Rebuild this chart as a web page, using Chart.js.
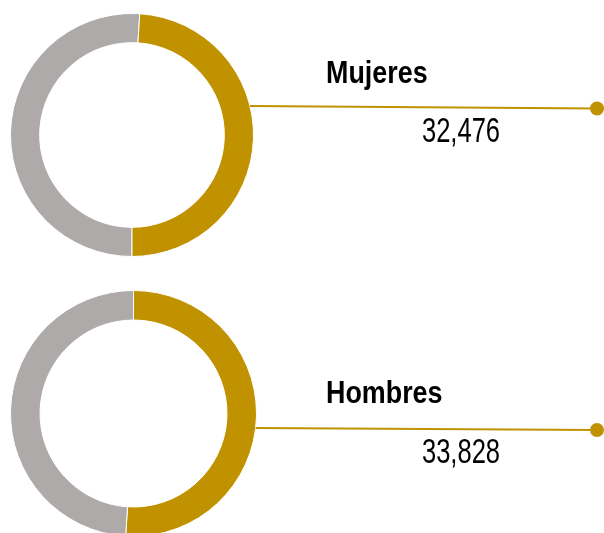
<!DOCTYPE html>
<html>
<head>
<meta charset="utf-8">
<script src="https://cdn.jsdelivr.net/npm/chart.js@4/dist/chart.umd.min.js"></script>
<style>
  html, body { margin: 0; padding: 0; background: #fff; overflow: hidden; }
  #wrap { position: relative; width: 604px; height: 533px; overflow: hidden; }
  canvas { position: absolute; left: 0; }
  .lbl { position: absolute; font-family: 'Liberation Sans', Arial, sans-serif; color: #000; line-height: 1; white-space: nowrap; }
  .name { font-weight: bold; font-size: 32px; transform: scaleX(0.84); transform-origin: 0 0; }
  .num { font-size: 35px; width: 200px; text-align: center; transform: scaleX(0.73); transform-origin: 50% 0; }
</style>
</head>
<body>
<div id="wrap">
  <canvas id="c0" width="604" height="270" style="top:0px"></canvas>
  <canvas id="c1" width="604" height="280" style="top:270px"></canvas>
  <div class="lbl name" id="n0" style="left:326px; top:56px"></div>
  <div class="lbl num" id="v0" style="left:361px; top:112px"></div>
  <div class="lbl name" id="n1" style="left:326px; top:376px"></div>
  <div class="lbl num" id="v1" style="left:361px; top:433px"></div>
</div>
<script>
// data
const categories = ['Mujeres', 'Hombres'];
const values = [32476, 33828];

const gold = '#C09200';
const gray = '#AEAAA9';

// leader line from the ring to the dot on the right
const leaderLine = {
  id: 'leaderLine',
  afterDraw(chart, args, opts) {
    const arc = chart.getDatasetMeta(0).data[0];
    const ctx = chart.ctx;
    const R = arc.outerRadius;
    const dy = opts.startDy;
    const x0 = arc.x + Math.sqrt(R * R - dy * dy);
    const y0 = arc.y + dy;
    ctx.save();
    ctx.strokeStyle = gold;
    ctx.lineWidth = 2;
    ctx.beginPath();
    ctx.moveTo(x0, y0);
    ctx.lineTo(opts.endX, opts.endY);
    ctx.stroke();
    ctx.fillStyle = gold;
    ctx.beginPath();
    ctx.arc(opts.endX, opts.endY, 7, 0, Math.PI * 2);
    ctx.fill();
    ctx.restore();
  }
};

const setups = [
  { canvas: 'c0', pad: { left: 10, right: 350, top: 13, bottom: 13 }, line: { startDy: -29, endX: 597, endY: 108.5 } },
  { canvas: 'c1', pad: { left: 10, right: 347, top: 20, bottom: 13 }, line: { startDy: 14.5, endX: 597, endY: 160 } }
];

categories.forEach(function(cat, i) {
  const own = values[i];
  const other = values[1 - i];
  // top ring: grey first from the bottom, bottom ring: gold first from the top
  let data, colors, rotation;
  if (i === 0) {
    data = [other, own];
    colors = [gray, gold];
    rotation = 180;
  } else {
    data = [own, other];
    colors = [gold, gray];
    rotation = 0;
  }

  new Chart(document.getElementById(setups[i].canvas), {
    type: 'doughnut',
    data: {
      labels: i === 0 ? ['Resto', cat] : [cat, 'Resto'],
      datasets: [{
        data: data,
        backgroundColor: colors,
        borderColor: '#ffffff',
        borderWidth: 1
      }]
    },
    options: {
      responsive: false,
      animation: false,
      rotation: rotation,
      cutout: '76%',
      layout: { padding: setups[i].pad },
      plugins: {
        legend: { display: false },
        tooltip: { enabled: false },
        leaderLine: setups[i].line
      }
    },
    plugins: [leaderLine]
  });

  document.getElementById('n' + i).textContent = cat;
  document.getElementById('v' + i).textContent = own.toLocaleString('en-US');
});
</script>
</body>
</html>
